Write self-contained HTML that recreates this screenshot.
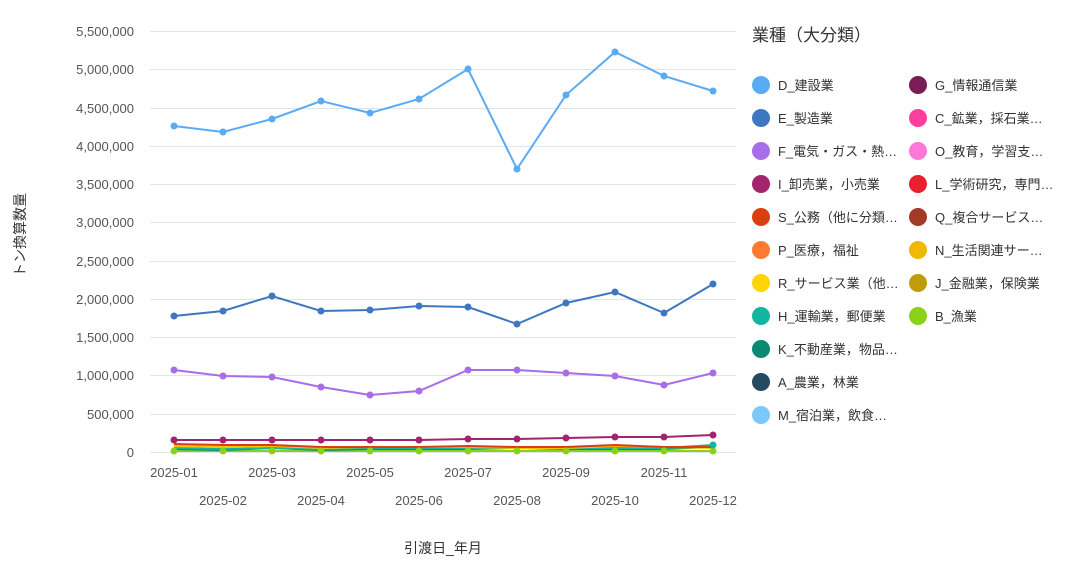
<!DOCTYPE html>
<html><head><meta charset="utf-8"><style>
body{margin:0;background:#fff;}
svg text{font-family:"Liberation Sans","Noto Sans CJK JP",sans-serif;}
</style></head><body>
<svg width="1075" height="566" xmlns="http://www.w3.org/2000/svg">
<g stroke="#e0e6e6" stroke-width="1">
<line x1="150" x2="736" y1="31.5" y2="31.5"/><line x1="150" x2="736" y1="69.5" y2="69.5"/>
<line x1="150" x2="736" y1="108.5" y2="108.5"/><line x1="150" x2="736" y1="146.5" y2="146.5"/>
<line x1="150" x2="736" y1="184.5" y2="184.5"/><line x1="150" x2="736" y1="222.5" y2="222.5"/>
<line x1="150" x2="736" y1="261.5" y2="261.5"/><line x1="150" x2="736" y1="299.5" y2="299.5"/>
<line x1="150" x2="736" y1="337.5" y2="337.5"/><line x1="150" x2="736" y1="375.5" y2="375.5"/>
<line x1="150" x2="736" y1="414.5" y2="414.5"/><line x1="150" x2="736" y1="452.5" y2="452.5"/>
</g>
<g font-size="13" fill="#555" text-anchor="end">
<text x="134" y="36">5,500,000</text><text x="134" y="74">5,000,000</text><text x="134" y="113">4,500,000</text>
<text x="134" y="151">4,000,000</text><text x="134" y="189">3,500,000</text><text x="134" y="227">3,000,000</text>
<text x="134" y="266">2,500,000</text><text x="134" y="304">2,000,000</text><text x="134" y="342">1,500,000</text>
<text x="134" y="380">1,000,000</text><text x="134" y="419">500,000</text><text x="134" y="457">0</text>
</g>
<g font-size="13" fill="#555" text-anchor="middle">
<text x="174" y="477">2025-01</text><text x="223" y="505">2025-02</text><text x="272" y="477">2025-03</text>
<text x="321" y="505">2025-04</text><text x="370" y="477">2025-05</text><text x="419" y="505">2025-06</text>
<text x="468" y="477">2025-07</text><text x="517" y="505">2025-08</text><text x="566" y="477">2025-09</text>
<text x="615" y="505">2025-10</text><text x="664" y="477">2025-11</text><text x="713" y="505">2025-12</text>
</g>
<text x="443" y="553" font-size="14" fill="#333" text-anchor="middle">引渡日_年月</text>
<text transform="translate(25,235) rotate(-90)" font-size="14" fill="#333" text-anchor="middle">トン換算数量</text>
<g fill="none" stroke-width="2">
<polyline stroke="#8bd11a" points="174,451 223,451 272,451 321,451 370,451 419,451 468,451 517,451 566,451 615,451 664,451 713,451"/>
<polyline stroke="#0a8a70" points="174,449 223,450 272,448 321,450 370,449 419,449 468,449 517,448 566,449 615,449 664,449 713,447"/>
<polyline stroke="#12b5a0" points="174,448 223,449 272,448 321,449 370,448 419,448 468,448 517,448 566,448 615,448 664,448 713,445"/>
<polyline stroke="#f2c400" points="174,446 223,447 272,446 321,448 370,447 419,447 468,447 517,448 566,448 615,446 664,447 713,448"/>
<polyline stroke="#d94010" points="174,444 223,445 272,445 321,447 370,447 419,447 468,446 517,447 566,447 615,445 664,447 713,447"/>
<polyline stroke="#a3246c" points="174,440 223,440 272,440 321,440 370,440 419,440 468,439 517,439 566,438 615,437 664,437 713,435"/>
<polyline stroke="#a86de8" points="174,370 223,376 272,377 321,387 370,395 419,391 468,370 517,370 566,373 615,376 664,385 713,373"/>
<polyline stroke="#3e77c0" points="174,316 223,311 272,296 321,311 370,310 419,306 468,307 517,324 566,303 615,292 664,313 713,284"/>
<polyline stroke="#5aabf5" points="174,126 223,132 272,119 321,101 370,113 419,99 468,69 517,169 566,95 615,52 664,76 713,91"/>
</g>
<g fill="#a3246c"><circle cx="174" cy="440" r="3.5"/><circle cx="223" cy="440" r="3.5"/><circle cx="272" cy="440" r="3.5"/><circle cx="321" cy="440" r="3.5"/><circle cx="370" cy="440" r="3.5"/><circle cx="419" cy="440" r="3.5"/><circle cx="468" cy="439" r="3.5"/><circle cx="517" cy="439" r="3.5"/><circle cx="566" cy="438" r="3.5"/><circle cx="615" cy="437" r="3.5"/><circle cx="664" cy="437" r="3.5"/><circle cx="713" cy="435" r="3.5"/></g>
<g fill="#8bd11a"><circle cx="174" cy="451" r="3.5"/><circle cx="223" cy="451" r="3.5"/><circle cx="272" cy="451" r="3.5"/><circle cx="321" cy="451" r="3.5"/><circle cx="370" cy="451" r="3.5"/><circle cx="419" cy="451" r="3.5"/><circle cx="468" cy="451" r="3.5"/><circle cx="517" cy="451" r="3.5"/><circle cx="566" cy="451" r="3.5"/><circle cx="615" cy="451" r="3.5"/><circle cx="664" cy="451" r="3.5"/><circle cx="713" cy="451" r="3.5"/></g>
<circle cx="713" cy="445" r="3.5" fill="#12b5a0"/>
<g fill="#a86de8"><circle cx="174" cy="370" r="3.5"/><circle cx="223" cy="376" r="3.5"/><circle cx="272" cy="377" r="3.5"/><circle cx="321" cy="387" r="3.5"/><circle cx="370" cy="395" r="3.5"/><circle cx="419" cy="391" r="3.5"/><circle cx="468" cy="370" r="3.5"/><circle cx="517" cy="370" r="3.5"/><circle cx="566" cy="373" r="3.5"/><circle cx="615" cy="376" r="3.5"/><circle cx="664" cy="385" r="3.5"/><circle cx="713" cy="373" r="3.5"/></g>
<g fill="#3e77c0"><circle cx="174" cy="316" r="3.5"/><circle cx="223" cy="311" r="3.5"/><circle cx="272" cy="296" r="3.5"/><circle cx="321" cy="311" r="3.5"/><circle cx="370" cy="310" r="3.5"/><circle cx="419" cy="306" r="3.5"/><circle cx="468" cy="307" r="3.5"/><circle cx="517" cy="324" r="3.5"/><circle cx="566" cy="303" r="3.5"/><circle cx="615" cy="292" r="3.5"/><circle cx="664" cy="313" r="3.5"/><circle cx="713" cy="284" r="3.5"/></g>
<g fill="#5aabf5"><circle cx="174" cy="126" r="3.5"/><circle cx="223" cy="132" r="3.5"/><circle cx="272" cy="119" r="3.5"/><circle cx="321" cy="101" r="3.5"/><circle cx="370" cy="113" r="3.5"/><circle cx="419" cy="99" r="3.5"/><circle cx="468" cy="69" r="3.5"/><circle cx="517" cy="169" r="3.5"/><circle cx="566" cy="95" r="3.5"/><circle cx="615" cy="52" r="3.5"/><circle cx="664" cy="76" r="3.5"/><circle cx="713" cy="91" r="3.5"/></g>
<text x="752" y="41" font-size="17" fill="#333">業種（大分類）</text>
<g font-size="13" fill="#333">
<circle cx="761" cy="85" r="9" fill="#5aabf5"/><text x="778" y="90">D_建設業</text>
<circle cx="761" cy="118" r="9" fill="#3e77c0"/><text x="778" y="123">E_製造業</text>
<circle cx="761" cy="151" r="9" fill="#a86de8"/><text x="778" y="156">F_電気・ガス・熱…</text>
<circle cx="761" cy="184" r="9" fill="#a3246c"/><text x="778" y="189">I_卸売業，小売業</text>
<circle cx="761" cy="217" r="9" fill="#d94010"/><text x="778" y="222">S_公務（他に分類…</text>
<circle cx="761" cy="250" r="9" fill="#ff7a30"/><text x="778" y="255">P_医療，福祉</text>
<circle cx="761" cy="283" r="9" fill="#ffd500"/><text x="778" y="288">R_サービス業（他…</text>
<circle cx="761" cy="316" r="9" fill="#12b5a0"/><text x="778" y="321">H_運輸業，郵便業</text>
<circle cx="761" cy="349" r="9" fill="#0a8a70"/><text x="778" y="354">K_不動産業，物品…</text>
<circle cx="761" cy="382" r="9" fill="#254a60"/><text x="778" y="387">A_農業，林業</text>
<circle cx="761" cy="415" r="9" fill="#7cc8fb"/><text x="778" y="420">M_宿泊業，飲食…</text>
<circle cx="918" cy="85" r="9" fill="#7a1c56"/><text x="935" y="90">G_情報通信業</text>
<circle cx="918" cy="118" r="9" fill="#ff3f9f"/><text x="935" y="123">C_鉱業，採石業…</text>
<circle cx="918" cy="151" r="9" fill="#ff78d8"/><text x="935" y="156">O_教育，学習支…</text>
<circle cx="918" cy="184" r="9" fill="#e8202e"/><text x="935" y="189">L_学術研究，専門…</text>
<circle cx="918" cy="217" r="9" fill="#a33a28"/><text x="935" y="222">Q_複合サービス…</text>
<circle cx="918" cy="250" r="9" fill="#f0b800"/><text x="935" y="255">N_生活関連サー…</text>
<circle cx="918" cy="283" r="9" fill="#bf9d0a"/><text x="935" y="288">J_金融業，保険業</text>
<circle cx="918" cy="316" r="9" fill="#8bd11a"/><text x="935" y="321">B_漁業</text>
</g>
</svg>
</body></html>
